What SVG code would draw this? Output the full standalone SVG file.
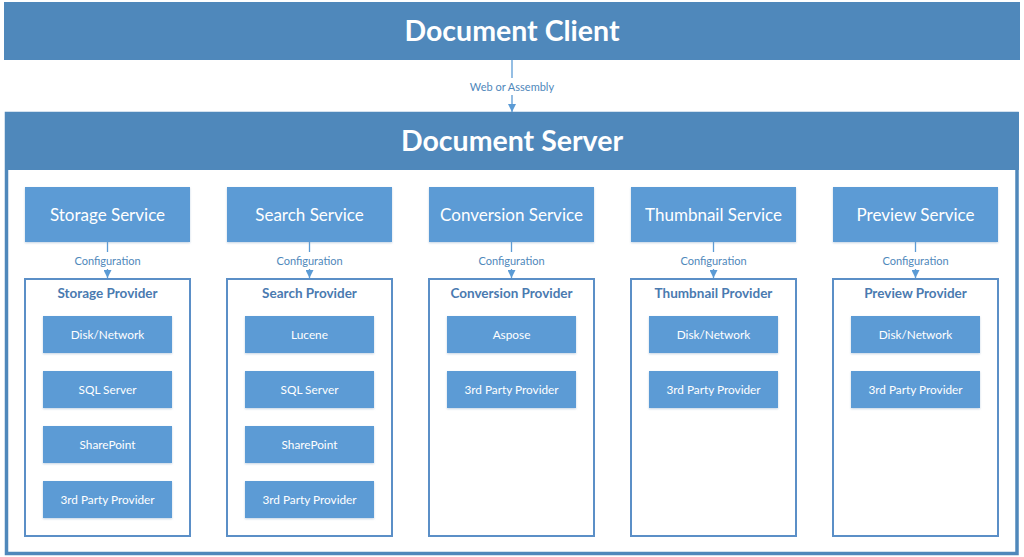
<svg xmlns="http://www.w3.org/2000/svg" width="1024" height="557" viewBox="0 0 1024 557">
<style>
.bar{fill:#4f88bb}
.frame{fill:#fff;stroke:#4f88bb;stroke-width:3.5}
.svc{fill:#5b9bd5;filter:url(#sh)}
.prov{fill:#fff;stroke:#5b8fc7;stroke-width:2}
.item{fill:#5b9bd5;filter:url(#sh)}
.t{font-family:Lato,"Open Sans",sans-serif;text-anchor:middle;dominant-baseline:central}
.h{font-size:28.5px;font-weight:bold;fill:#fff}
.st{font-size:17px;fill:#fff}
.pt{font-size:13.5px;font-weight:bold;fill:#4a7ab0}
.it{font-size:11.8px;fill:#fff}
.lbl{font-size:11px;fill:#4f88bb}
.ln{stroke:#5b9bd5;stroke-width:1.3;fill:none}
</style>
<defs>
<filter id="sh" x="-5%" y="-10%" width="110%" height="130%">
<feDropShadow dx="0" dy="1" stdDeviation="1" flood-color="#7a9cc0" flood-opacity="0.45"/>
</filter>
<marker id="ah" viewBox="0 0 10 10" refX="10" refY="5" markerWidth="8" markerHeight="8" markerUnits="userSpaceOnUse" orient="auto">
<path d="M0,0 L10,5 L0,10 z" fill="#5b9bd5"/>
</marker>
</defs>
<rect width="1024" height="557" fill="#fff"/>

<g id="client">
<rect class="bar" x="4" y="2" width="1016" height="58"/>
<text class="t h" x="512" y="30">Document Client</text>
</g>

<g id="server">
<rect class="frame" x="6.5" y="113.5" width="1010.5" height="440"/>
<rect class="bar" x="5" y="112" width="1014" height="58"/>
<text class="t h" x="512" y="140">Document Server</text>
</g>

<g id="connectors">
<line class="ln" x1="512" y1="60" x2="512" y2="78"/>
<line class="ln" x1="512" y1="95" x2="512" y2="112" marker-end="url(#ah)"/>
<line class="ln" x1="107.5" y1="242" x2="107.5" y2="252"/>
<line class="ln" x1="107.5" y1="269" x2="107.5" y2="278" marker-end="url(#ah)"/>
<line class="ln" x1="309.5" y1="242" x2="309.5" y2="252"/>
<line class="ln" x1="309.5" y1="269" x2="309.5" y2="278" marker-end="url(#ah)"/>
<line class="ln" x1="511.5" y1="242" x2="511.5" y2="252"/>
<line class="ln" x1="511.5" y1="269" x2="511.5" y2="278" marker-end="url(#ah)"/>
<line class="ln" x1="713.5" y1="242" x2="713.5" y2="252"/>
<line class="ln" x1="713.5" y1="269" x2="713.5" y2="278" marker-end="url(#ah)"/>
<line class="ln" x1="915.5" y1="242" x2="915.5" y2="252"/>
<line class="ln" x1="915.5" y1="269" x2="915.5" y2="278" marker-end="url(#ah)"/>
<text class="t lbl" x="512" y="86">Web or Assembly</text>
<text class="t lbl" x="107.5" y="260.5">Configuration</text>
<text class="t lbl" x="309.5" y="260.5">Configuration</text>
<text class="t lbl" x="511.5" y="260.5">Configuration</text>
<text class="t lbl" x="713.5" y="260.5">Configuration</text>
<text class="t lbl" x="915.5" y="260.5">Configuration</text>
</g>

<g id="storage-service">
<rect class="svc" x="25" y="187" width="165" height="55"/>
<text class="t st" x="107.5" y="214">Storage Service</text>
</g>
<g id="search-service">
<rect class="svc" x="227" y="187" width="165" height="55"/>
<text class="t st" x="309.5" y="214">Search Service</text>
</g>
<g id="conversion-service">
<rect class="svc" x="429" y="187" width="165" height="55"/>
<text class="t st" x="511.5" y="214">Conversion Service</text>
</g>
<g id="thumbnail-service">
<rect class="svc" x="631" y="187" width="165" height="55"/>
<text class="t st" x="713.5" y="214">Thumbnail Service</text>
</g>
<g id="preview-service">
<rect class="svc" x="833" y="187" width="165" height="55"/>
<text class="t st" x="915.5" y="214">Preview Service</text>
</g>

<g id="storage-provider">
<rect class="prov" x="25" y="279" width="165" height="257"/>
<text class="t pt" x="107.5" y="293">Storage Provider</text>
<rect class="item" x="43" y="316" width="129" height="37"/>
<text class="t it" x="107.5" y="334">Disk/Network</text>
<rect class="item" x="43" y="371" width="129" height="37"/>
<text class="t it" x="107.5" y="389">SQL Server</text>
<rect class="item" x="43" y="426" width="129" height="37"/>
<text class="t it" x="107.5" y="444">SharePoint</text>
<rect class="item" x="43" y="481" width="129" height="37"/>
<text class="t it" x="107.5" y="499">3rd Party Provider</text>
</g>
<g id="search-provider">
<rect class="prov" x="227" y="279" width="165" height="257"/>
<text class="t pt" x="309.5" y="293">Search Provider</text>
<rect class="item" x="245" y="316" width="129" height="37"/>
<text class="t it" x="309.5" y="334">Lucene</text>
<rect class="item" x="245" y="371" width="129" height="37"/>
<text class="t it" x="309.5" y="389">SQL Server</text>
<rect class="item" x="245" y="426" width="129" height="37"/>
<text class="t it" x="309.5" y="444">SharePoint</text>
<rect class="item" x="245" y="481" width="129" height="37"/>
<text class="t it" x="309.5" y="499">3rd Party Provider</text>
</g>
<g id="conversion-provider">
<rect class="prov" x="429" y="279" width="165" height="257"/>
<text class="t pt" x="511.5" y="293">Conversion Provider</text>
<rect class="item" x="447" y="316" width="129" height="37"/>
<text class="t it" x="511.5" y="334">Aspose</text>
<rect class="item" x="447" y="371" width="129" height="37"/>
<text class="t it" x="511.5" y="389">3rd Party Provider</text>
</g>
<g id="thumbnail-provider">
<rect class="prov" x="631" y="279" width="165" height="257"/>
<text class="t pt" x="713.5" y="293">Thumbnail Provider</text>
<rect class="item" x="649" y="316" width="129" height="37"/>
<text class="t it" x="713.5" y="334">Disk/Network</text>
<rect class="item" x="649" y="371" width="129" height="37"/>
<text class="t it" x="713.5" y="389">3rd Party Provider</text>
</g>
<g id="preview-provider">
<rect class="prov" x="833" y="279" width="165" height="257"/>
<text class="t pt" x="915.5" y="293">Preview Provider</text>
<rect class="item" x="851" y="316" width="129" height="37"/>
<text class="t it" x="915.5" y="334">Disk/Network</text>
<rect class="item" x="851" y="371" width="129" height="37"/>
<text class="t it" x="915.5" y="389">3rd Party Provider</text>
</g>
</svg>
